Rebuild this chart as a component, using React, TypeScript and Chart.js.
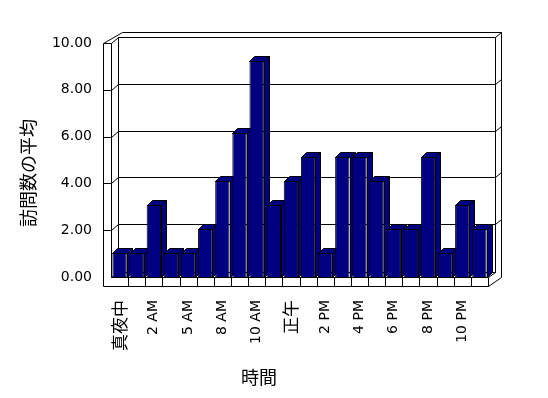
import { useEffect, useRef } from 'react';
import { Chart, registerables } from 'chart.js';

Chart.register(...registerables);

// ---- data ----
const hours = ['真夜中', '1 AM', '2 AM', '3 AM', '5 AM', '7 AM', '8 AM', '9 AM', '10 AM', '11 AM', '正午', '1 PM', '2 PM', '3 PM', '4 PM', '5 PM', '6 PM', '7 PM', '8 PM', '9 PM', '10 PM', '11 PM'];
const visits = [1, 1, 3, 1, 1, 2, 4, 6, 9, 3, 4, 5, 1, 5, 5, 4, 2, 2, 5, 1, 3, 2];
const yTicks = [0, 2, 4, 6, 8, 10];
const xTitle = '時間';
const yTitle = '訪問数の平均';

const NAVY = '#000080';
const LATIN = '"DejaVu Sans", "Noto Sans CJK JP", sans-serif';
const CJK = '"Noto Sans CJK JP", sans-serif';

const threeD = {
  id: 'threeD',
  beforeDatasetsDraw(chart: any) {
    const { ctx, chartArea: a, scales } = chart;
    const yW = scales.yWall;
    const xs = scales.x;
    const L = a.left, R = a.right, B = a.bottom;
    const fTop = yW.getPixelForValue(10);
    const wallOuter = L - 8;
    const floorBot = B + 9;
    const wdx = 7, wdy = -6;
    const bx0 = L + wdx, bx1 = R + wdx, by0 = fTop + wdy, by1 = B - 5;
    const tx = 6, ty = -5;
    const s = (v: number) => Math.round(v) + 0.5;
    ctx.save();
    ctx.lineWidth = 1;
    ctx.strokeStyle = '#000';
    const seg = (pts: number[][]) => {
      ctx.beginPath();
      ctx.moveTo(s(pts[0][0]), s(pts[0][1]));
      for (let i = 1; i < pts.length; i++) ctx.lineTo(s(pts[i][0]), s(pts[i][1]));
      ctx.stroke();
    };
    // back wall face
    seg([[bx0, by0], [bx1, by0], [bx1, by1], [bx0, by1], [bx0, by0]]);
    // top edges
    seg([[wallOuter, fTop], [bx0 - 2 + tx, by0 + ty], [bx1 + tx, by0 + ty], [bx1, by0]]);
    seg([[L, fTop], [bx0, by0]]);
    // right edge of back wall slab and floor side
    seg([[bx1 + tx, by0 + ty], [bx1 + tx, B], [R, floorBot]]);
    // left wall front face and floor front face
    seg([[L, B], [L, fTop], [wallOuter, fTop], [wallOuter, floorBot], [R, floorBot], [R, B], [L, B]]);
    seg([[L, B], [bx0, by1]]);
    seg([[R, B], [bx1, by1]]);
    // floor separators
    for (let i = 1; i < hours.length; i++) {
      const xx = (xs.getPixelForValue(i - 1) + xs.getPixelForValue(i)) / 2;
      seg([[xx, B], [xx, floorBot]]);
    }
    // gridlines on walls
    yTicks.forEach((v) => {
      if (v === 0 || v === 10) return;
      const y = yW.getPixelForValue(v);
      seg([[wallOuter, y], [L, y], [bx0, y + wdy], [bx1, y + wdy], [bx1 + tx, y + wdy + ty]]);
    });

    // bar side & top faces
    const bdx = 5, bdy = -5;
    const meta = chart.getDatasetMeta(0);
    ctx.fillStyle = NAVY;
    meta.data.forEach((el: any) => {
      const { x, y, base, width } = el.getProps(['x', 'y', 'base', 'width'], true);
      const l = x - width / 2, r = x + width / 2;
      const side = [[r, y], [r + bdx, y + bdy], [r + bdx, base + bdy], [r, base]];
      const top = [[l, y], [l + bdx, y + bdy], [r + bdx, y + bdy], [r, y]];
      [side, top].forEach((pts) => {
        ctx.beginPath();
        ctx.moveTo(s(pts[0][0]), s(pts[0][1]));
        for (let i = 1; i < pts.length; i++) ctx.lineTo(s(pts[i][0]), s(pts[i][1]));
        ctx.closePath();
        ctx.fill();
        ctx.stroke();
      });
    });
    ctx.restore();
  },
  afterDraw(chart: any) {
    const { ctx, chartArea: a } = chart;
    ctx.save();
    ctx.fillStyle = '#000';
    ctx.font = '18px ' + CJK;
    ctx.textAlign = 'center';
    ctx.textBaseline = 'middle';
    ctx.fillText(xTitle, a.left + 148, a.bottom + 100);
    ctx.translate(28, a.top + 136);
    ctx.rotate(-Math.PI / 2);
    ctx.fillText(yTitle, 0, 0);
    ctx.restore();
  },
};

export default function App() {
  const ref = useRef<HTMLCanvasElement>(null);
  useEffect(() => {
    if (!ref.current) return;
    const chart = new Chart(ref.current, {
      type: 'bar',
      data: {
        labels: hours,
        datasets: [
          {
            data: visits,
            backgroundColor: NAVY,
            borderColor: '#000',
            borderWidth: 1,
            categoryPercentage: 1,
            barPercentage: 0.84,
            yAxisID: 'y',
          },
        ],
      },
      options: {
        animation: false,
        responsive: false,
        maintainAspectRatio: false,
        devicePixelRatio: 1,
        layout: { padding: { top: 37, right: 60, bottom: 0, left: 0 } },
        plugins: { legend: { display: false }, tooltip: { enabled: false } },
        scales: {
          x: {
            type: 'category',
            grid: { display: false, drawTicks: false },
            border: { display: false },
            afterFit: (axis: any) => { axis.height = 121; },
            ticks: {
              autoSkip: false,
              minRotation: 90,
              maxRotation: 90,
              padding: 23,
              color: '#000',
              callback: (_v: any, i: number) => (i % 2 === 0 ? hours[i] : ''),
              font: (c: any) => {
                const lab = hours[c.index] || '';
                return /[^\x00-\x7f]/.test(lab) ? { family: CJK, size: 17 } : { family: LATIN, size: 14 };
              },
            },
          },
          y: { display: false, min: 0, max: 10, position: 'left' },
          yWall: {
            type: 'linear',
            position: 'left',
            min: 0,
            max: 10.256,
            grid: { display: false, drawTicks: false },
            border: { display: false },
            afterFit: (axis: any) => { axis.width = 111; },
            afterBuildTicks: (axis: any) => { axis.ticks = yTicks.map((v) => ({ value: v })); },
            ticks: {
              padding: 19,
              color: '#000',
              font: { family: LATIN, size: 14 },
              callback: (v: any) => Number(v).toFixed(2),
            },
          },
        },
      },
      plugins: [threeD],
    });
    return () => chart.destroy();
  }, []);
  return (
    <div style={{ position: 'fixed', left: 0, top: 0, width: 548, height: 398, background: '#fff' }}>
      <canvas ref={ref} width={548} height={398} style={{ display: 'block' }} />
    </div>
  );
}
